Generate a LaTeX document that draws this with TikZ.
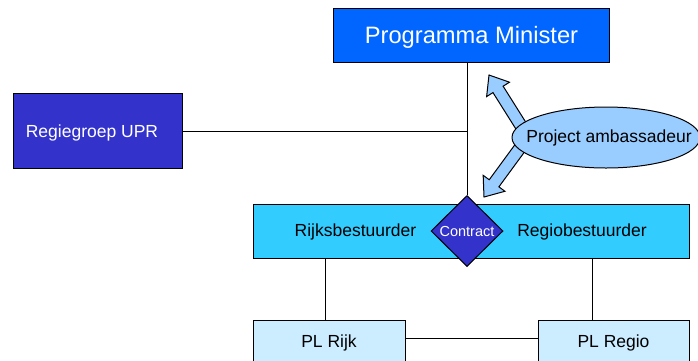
\documentclass[tikz,border=0pt]{standalone}
\usepackage{fontspec}
\setmainfont{Liberation Sans}
\usetikzlibrary{shapes.geometric,calc}
\definecolor{pmblue}{HTML}{0066FF}
\definecolor{darkviolet}{HTML}{3333CC}
\definecolor{bandcyan}{HTML}{33CCFF}
\definecolor{palecyan}{HTML}{CCECFF}
\definecolor{ambblue}{HTML}{99CCFF}
\tikzset{
  box/.style={draw=black, line width=1pt, inner sep=0pt, align=center},
  txt/.style={inner sep=0pt, font=\fontsize{17.5}{21}\selectfont},
  conn/.style={draw=black, line width=1pt},
  arrowfill/.style={draw=black, line width=1pt, fill=ambblue, line join=miter}
}
\newcommand\blockarrow[2]{%
  \coordinate (h#2) at ($(#2)!17pt!(#1)$);
  \draw[arrowfill] ($(#1)!6pt!90:(#2)$) -- ($(h#2)!6pt!90:(#2)$) -- ($(h#2)!13.5pt!90:(#2)$) -- (#2)
    -- ($(h#2)!13.5pt!-90:(#2)$) -- ($(h#2)!6pt!-90:(#2)$) -- ($(#1)!6pt!-90:(#2)$) -- cycle;
}
\begin{document}
\begin{tikzpicture}[x=1pt,y=-1pt]
\useasboundingbox (0,0) rectangle (698,360);
% boxes
\node[box, fill=pmblue, minimum width=276pt, minimum height=54pt] (pm) at (471,35) {};
\node[inner sep=0pt, text=white, font=\fontsize{23.7}{28}\selectfont] (pmtxt) at (471.5,37.5) {Programma Minister};
\node[box, fill=darkviolet, minimum width=169pt, minimum height=75pt] (regie) at (97.5,131) {};
\node[txt, text=white] (regietxt) at (92,133) {Regiegroep UPR};
\node[box, fill=bandcyan, minimum width=436pt, minimum height=54pt] (band) at (471,231) {};
\node[txt] (rijksb) at (355.5,231.5) {Rijksbestuurder};
\node[txt] (regiob) at (582,231.5) {Regiobestuurder};
\node[box, fill=palecyan, minimum width=152pt, minimum height=46pt,
      font=\fontsize{17.5}{21}\selectfont] (plr) at (329,343) {PL Rijk};
\node[box, fill=palecyan, minimum width=151pt, minimum height=46pt,
      font=\fontsize{17.5}{21}\selectfont] (plg) at (613.5,343) {PL Regio};
% connectors
\node[draw=black, line width=1pt, shape=diamond, fill=darkviolet, text=white,
      minimum width=72pt, minimum height=71pt, inner sep=0pt,
      font=\fontsize{14.5}{17}\selectfont] (dia) at (467,231) {Contract};
\draw[conn] (pm.south -| dia.north) -- (dia.north);
\draw[conn] (regie.east) -- (regie.east -| dia.north);
\draw[conn] ([xshift=-4pt]plr.north) -- ([xshift=-4pt]plr.north |- band.south);
\draw[conn] ([xshift=-21.5pt]plg.north) -- ([xshift=-21.5pt]plg.north |- band.south);
\draw[conn] ([yshift=5pt]plr.east) -- ([yshift=5pt]plr.east -| plg.west);
% ambassador arrows
\coordinate (ambbase) at (528,137);
\coordinate (tipup) at (489,75);
\coordinate (tipdown) at (484,197);
\blockarrow{ambbase}{tipup}
\blockarrow{ambbase}{tipdown}
\node[draw=black, line width=1pt, ellipse, fill=ambblue, minimum width=188pt, minimum height=61pt,
      inner sep=0pt] (amb) at (606,137.5) {};
\node[txt] (ambtxt) at (609,138) {Project ambassadeur};
\end{tikzpicture}
\end{document}
